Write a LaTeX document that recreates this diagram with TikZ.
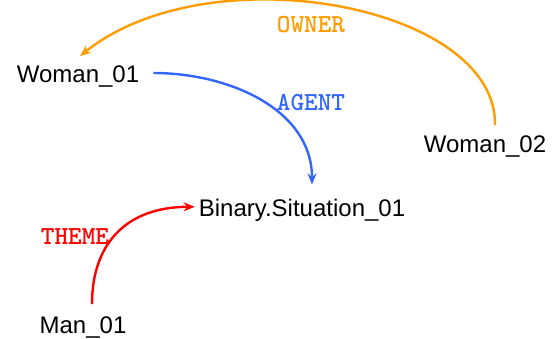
\documentclass[tikz,border=0pt]{standalone}
\usepackage{fontspec}
\setmainfont{Liberation Sans}
\newfontfamily\labelfont{lmmonolt10-bold.otf}
\usetikzlibrary{arrows.meta}
\definecolor{ownercol}{HTML}{FF9C00}
\definecolor{agentcol}{HTML}{3366FF}
\definecolor{themecol}{HTML}{FF0000}
\begin{document}
\begin{tikzpicture}[x=1pt,y=-1pt,
  entity/.style={anchor=base,inner sep=0pt,font=\fontsize{24}{28}\selectfont},
  role/.style={anchor=base,inner sep=0pt,font=\labelfont\fontsize{26}{30}\selectfont},
  rel/.style={line width=2.4pt,-{Stealth[length=11pt,width=9pt]}}]
\useasboundingbox (0,0) rectangle (557,339);

% entities
\node[entity] (w1) at (78,83) {Woman\_01};
\node[entity] (bs) at (302,217) {Binary.Situation\_01};
\node[entity] (man) at (83,333) {Man\_01};
\node[entity] (w2) at (485,153) {Woman\_02};

% role labels
\node[role,text=ownercol] (lown) at (311,33) {OWNER};
\node[role,text=agentcol] (lag) at (311,111) {AGENT};
\node[role,text=themecol] (lth) at (75,245) {THEME};

% relations
\draw[rel,ownercol] ([xshift=10pt,yshift=11pt]w2.north)
  .. controls (497,5) and (210,-48) .. ([xshift=2pt,yshift=10pt]w1.north);
\draw[rel,agentcol] ([xshift=14pt,yshift=4pt]w1.east)
  .. controls (230,73) and (312,110) .. ([xshift=10pt,yshift=15pt]bs.north);
\draw[rel,themecol] ([xshift=9pt,yshift=12pt]man.north)
  .. controls (92,245) and (125,207) .. ([xshift=-4pt,yshift=4pt]bs.west);
\end{tikzpicture}
\end{document}
